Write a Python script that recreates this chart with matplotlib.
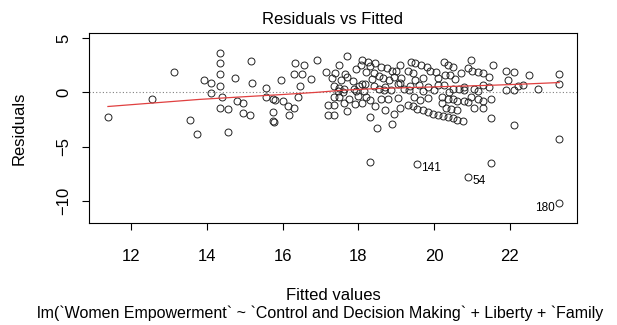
import matplotlib
matplotlib.use("Agg")
import matplotlib.pyplot as plt

plt.rcParams['font.family'] = ['Liberation Sans', 'DejaVu Sans']

# fitted values and residuals
fitted = [
    # left, sparse part
    11.39, 12.56, 13.14, 13.56, 13.75, 13.93, 14.1, 14.1, 14.35, 14.35, 14.35, 14.35,
    14.4, 14.35, 14.55, 14.55, 14.75, 14.8, 14.96, 14.96, 15.15, 15.17, 15.2, 15.55,
    15.55, 15.75, 15.8, 15.75, 15.75, 15.78, 15.95, 16.0, 16.15, 16.17, 16.3, 16.34,
    16.3, 16.5, 16.56, 16.47, 16.4, 16.75, 16.9,
    # row ~3
    17.7, 18.1, 18.25, 18.45, 20.97,
    # row ~2.5
    17.5, 18.08, 18.3, 18.6, 18.75, 18.88, 19.1, 19.38, 19.5, 19.65, 20.25, 20.36,
    20.5, 21.0, 21.55, 19.8,
    # row ~1.9
    17.15, 17.38, 17.65, 17.95, 18.2, 18.42, 18.65, 18.8, 19.0, 19.3, 19.45, 19.9,
    20.05, 20.28, 20.42, 20.7, 20.9, 21.15, 21.3, 21.9, 22.1, 21.45,
    # row ~1.2
    17.3, 17.55, 17.85, 18.1, 18.35, 18.55, 18.95, 19.12, 19.5, 19.7, 20.1, 20.55, 17.7,
    # row ~0.6
    17.35, 17.5, 17.62, 17.88, 18.02, 18.18, 18.4, 18.7, 19.04, 19.1, 19.35, 19.6,
    19.85, 20.1, 20.25, 20.5, 20.65, 20.8, 21.05, 21.3, 21.45,
    # row ~0.1
    17.45, 17.6, 17.95, 18.15, 18.55, 18.67, 18.85, 19.2, 19.33, 19.7, 20.0, 20.4,
    20.8, 21.15,
    # row ~-0.5
    17.35, 17.5, 17.75, 18.0, 18.2, 18.3, 18.6, 18.77, 19.05, 19.46, 19.62, 19.85,
    20.2, 20.36, 20.5, 20.6, 20.8, 20.97, 21.15, 21.3, 21.5,
    # row ~-1.2
    17.2, 17.35, 17.62, 17.9, 18.1, 18.45, 18.7, 19.1, 19.3, 19.43, 20.2, 20.3,
    20.45, 20.6, 20.9, 21.05, 21.3,
    # diagonal band
    19.56, 19.7, 19.83, 19.96, 20.1, 20.23, 20.36, 20.5, 20.6, 20.75,
    # lower
    17.2, 17.35, 17.7, 18.3, 18.5, 18.93, 18.9, 21.5, 22.1,
    # right
    21.95, 21.9, 22.1, 22.35, 22.2, 22.5, 22.75, 23.3, 23.3, 23.3,
    # outliers
    18.3, 19.54, 21.5, 20.9, 23.3,
]
resid = [
    -2.3, -0.64, 1.84, -2.5, -3.8, 1.1, 0.9, -0.1, 3.6, 2.7, 1.7, 0.6,
    -0.4, -1.4, -1.5, -3.6, 1.3, -0.8, -1.0, -1.9, -2.1, 2.9, 0.9, 0.4,
    -0.4, -0.6, -0.7, -1.8, -2.6, -2.7, 1.1, -0.8, -1.3, -2.1, -1.4, 2.7,
    1.7, 1.7, 2.5, 0.55, -0.4, 1.2, 3.0,
    3.3, 2.95, 2.8, 2.7, 2.95,
    2.5, 2.55, 2.4, 2.3, 2.2, 1.95, 2.5, 2.8, 2.7, 2.5, 2.8, 2.5,
    2.3, 2.0, 2.5, 2.3,
    1.9, 1.75, 1.7, 2.1, 1.9, 1.8, 1.3, 1.1, 2.0, 2.0, 1.75, 2.0,
    1.85, 1.6, 1.6, 1.8, 2.2, 1.85, 1.75, 2.0, 1.85, 1.4,
    1.3, 1.1, 1.0, 0.8, 1.2, 1.5, 1.45, 1.3, 1.1, 1.3, 1.3, 1.2, 1.4,
    0.6, 0.4, 0.35, 0.35, 0.55, 0.75, 0.6, 0.5, 0.8, 0.9, 0.55, 0.65,
    0.5, 0.7, 0.65, 0.35, 0.35, 0.5, 0.35, 0.65, 0.45,
    0.1, 0.0, 0.15, 0.1, 0.35, 0.2, 0.25, 0.35, 0.2, 0.1, 0.2, 0.0,
    0.2, 0.1,
    -0.4, -0.4, -0.6, -0.3, -0.45, -0.7, -0.65, -0.6, -0.5, -0.45, -0.7, -0.5,
    -0.45, -0.6, -0.65, -0.75, -0.75, -0.45, -0.6, -0.75, -0.6,
    -1.2, -1.2, -1.0, -1.1, -1.0, -1.3, -1.65, -1.4, -1.2, -1.3, -1.0, -1.4,
    -1.5, -1.65, -0.9, -1.4, -1.4,
    -1.5, -1.65, -1.8, -1.95, -2.1, -2.2, -2.3, -2.4, -2.5, -2.6,
    -2.1, -2.1, -1.7, -2.3, -3.3, -2.0, -2.9, -2.4, -3.0,
    1.1, 0.2, 0.2, 0.65, 0.6, 1.6, 0.35, 1.7, 0.8, -4.3,
    -6.4, -6.55, -6.5, -7.8, -10.2,
]

# smoother (red line)
smooth_x = [11.39, 12.5, 13.8, 15.0, 16.0, 16.9, 17.6, 18.5, 19.5, 20.5, 21.5, 22.3, 23.3]
smooth_y = [-1.3, -1.0, -0.65, -0.4, -0.2, 0.0, 0.2, 0.35, 0.45, 0.55, 0.65, 0.75, 0.9]

# labelled points
lab_x = [19.54, 20.9, 23.3]
lab_y = [-6.55, -7.8, -10.2]
lab_text = ["141", "54", "180"]
lab_side = ["right", "right", "left"]

W, H = 617, 325
fig = plt.figure(figsize=(W / 100, H / 100), dpi=100)
ax = fig.add_axes([89 / W, 1 - 223 / H, (577 - 89) / W, (223 - 33) / H])

ax.axhline(0, color='gray', lw=0.8, ls=(0, (1, 2)))
ax.plot(fitted, resid, 'o', ms=5, mfc='none', mec='#222222', mew=0.7)
ax.plot(smooth_x, smooth_y, color='#e04040', lw=0.9)

for x, y, t, side in zip(lab_x, lab_y, lab_text, lab_side):
    if side == "right":
        ax.annotate(t, (x, y), xytext=(3, -3), textcoords='offset points',
                    ha='left', va='center', fontsize=8.5)
    else:
        ax.annotate(t, (x, y), xytext=(-3, -3), textcoords='offset points',
                    ha='right', va='center', fontsize=8.5)

ax.set_xlim(10.89, 23.77)
ax.set_ylim(-12.0, 5.45)
ax.set_xticks([12, 14, 16, 18, 20, 22])
ax.set_yticks([-10, -5, 0, 5])
ax.tick_params(direction='out', length=5, width=0.8, labelsize=12)
ax.tick_params(axis='x', pad=14)
ax.tick_params(axis='y', pad=8)
for lbl in ax.get_yticklabels():
    lbl.set_rotation(90)
    lbl.set_va('center')
for s in ax.spines.values():
    s.set_linewidth(0.8)

fig.text(333 / W, 1 - 20 / H, "Residuals vs Fitted", ha='center', va='center', fontsize=12)
fig.text(333 / W, 1 - 295 / H, "Fitted values", ha='center', va='center', fontsize=12)
fig.text(19 / W, 1 - 128 / H, "Residuals", ha='center', va='center', rotation=90, fontsize=12)
fig.text(37 / W, 1 - 313 / H,
         "lm(`Women Empowerment` ~ `Control and Decision Making` + Liberty + `Family",
         ha='left', va='center', fontsize=11.5)

fig.savefig("out.png", dpi=100)
